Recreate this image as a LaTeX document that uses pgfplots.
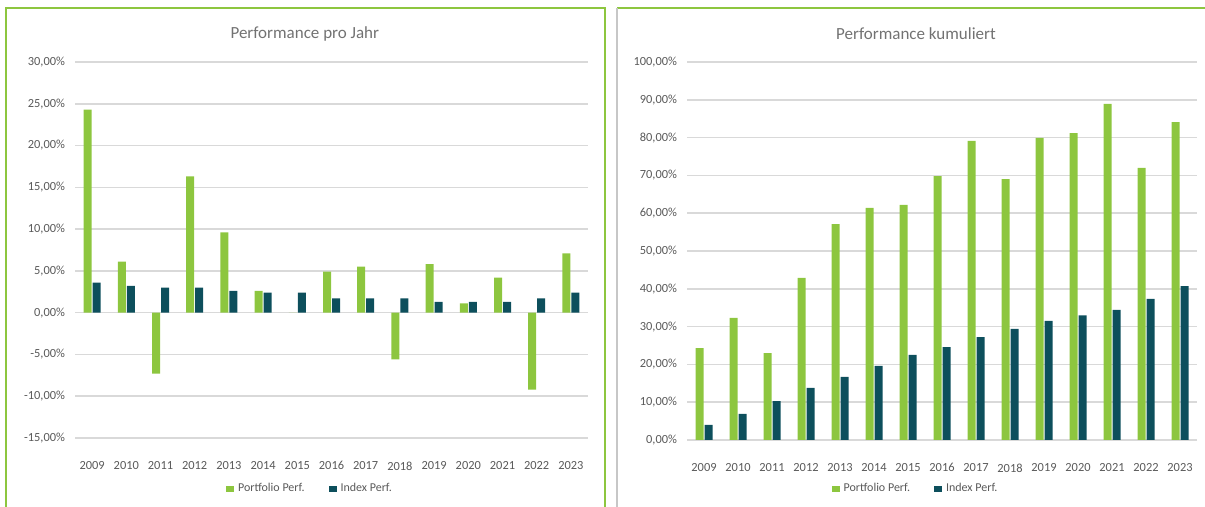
\documentclass[border=0pt]{standalone}
\usepackage{pgfplots}
\pgfplotsset{compat=1.18}
\usepackage{fontspec}
\setmainfont{Carlito}
\definecolor{cgreen}{HTML}{8DC63F}
\definecolor{cdark}{HTML}{0D4F5C}
\definecolor{cgrid}{HTML}{D9D9D9}
\definecolor{ctext}{HTML}{595959}
\pgfplotstableread{
x g d
0 24.3 3.6
1 6.1 3.2
2 -7.3 3.0
3 16.3 3.0
4 9.6 2.6
5 2.6 2.4
6 0.0 2.4
7 4.9 1.7
8 5.5 1.7
9 -5.6 1.7
10 5.8 1.3
11 1.1 1.3
12 4.2 1.3
13 -9.2 1.7
14 7.1 2.4
}\annual
\pgfplotstableread{
x g d
0 24.3 4.0
1 32.3 6.9
2 23.0 10.3
3 42.9 13.8
4 57.1 16.7
5 61.4 19.6
6 62.2 22.5
7 69.8 24.6
8 79.1 27.2
9 69.0 29.4
10 79.9 31.5
11 81.2 33.0
12 88.9 34.4
13 72.0 37.3
14 84.1 40.7
}\cumul
\pgfplotsset{
  mystyle/.style={
    scale only axis,
    ybar=0.5pt,
    bar width=4pt,
    xmin=-0.5, xmax=14.5,
    xtick={0,...,14},
    xticklabels={2009,2010,2011,2012,2013,2014,2015,2016,2017,2018,2019,2020,2021,2022,2023},
    axis line style={draw=none},
    tick style={draw=none},
    ymajorgrids,
    grid style={cgrid, line width=0.8pt},
    tick label style={font=\fontsize{6.2}{7}\selectfont, text=ctext},
    /pgf/number format/assume math mode=true,
    yticklabel={\pgfmathprintnumber[fixed,fixed zerofill,precision=2,use comma]{\tick}\%},
    xticklabel style={yshift=-4pt},
    yticklabel style={xshift=-1.5pt},
    title style={font=\fontsize{8.5}{9}\selectfont, text=ctext!85, anchor=center},
    legend columns=2,
    legend style={draw=none, fill=none, font=\fontsize{6}{7}\selectfont, text=ctext,
      anchor=center, /tikz/every even column/.append style={column sep=10pt}},
    legend image code/.code={\fill[##1] (0pt,-1.5pt) rectangle (4pt,1.5pt);},
  }
}
\begin{document}
\begin{tikzpicture}
\useasboundingbox (0pt,0pt) rectangle (602.5pt,253.5pt);
% panel frames
\draw[cgreen, line width=1pt] (3pt,-5pt) -- (3pt,249.5pt) -- (302.5pt,249.5pt) -- (302.5pt,-5pt);
\draw[cgreen, line width=1pt] (308.5pt,249.5pt) -- (610pt,249.5pt);
\draw[cgrid!80!gray, line width=0.8pt] (308.5pt,-5pt) -- (308.5pt,249.5pt);
\begin{axis}[mystyle,
  at={(37.5pt,34.5pt)}, anchor=south west,
  width=256.5pt, height=188pt,
  ymin=-15, ymax=30, ytick={-15,-10,...,30},
  title={Performance pro Jahr},
  title style={at={(0.448,1)}, yshift=8pt},
  legend style={at={(0.46,0)}, yshift=-25.5pt},
]
\addplot[fill=cgreen, draw=none] table[x=x,y=g] {\annual};
\addplot[fill=cdark, draw=none] table[x=x,y=d] {\annual};
\legend{Portfolio Perf.,Index Perf.}
\end{axis}
\begin{axis}[mystyle,
  at={(343.5pt,33.5pt)}, anchor=south west,
  width=255pt, height=189pt,
  ymin=0, ymax=100, ytick={0,10,...,100},
  title={Performance kumuliert},
  title style={at={(0.449,1)}, yshift=8pt},
  legend style={at={(0.45,0)}, yshift=-24.5pt},
]
\addplot[fill=cgreen, draw=none] table[x=x,y=g] {\cumul};
\addplot[fill=cdark, draw=none] table[x=x,y=d] {\cumul};
\legend{Portfolio Perf.,Index Perf.}
\end{axis}
\end{tikzpicture}
\end{document}
